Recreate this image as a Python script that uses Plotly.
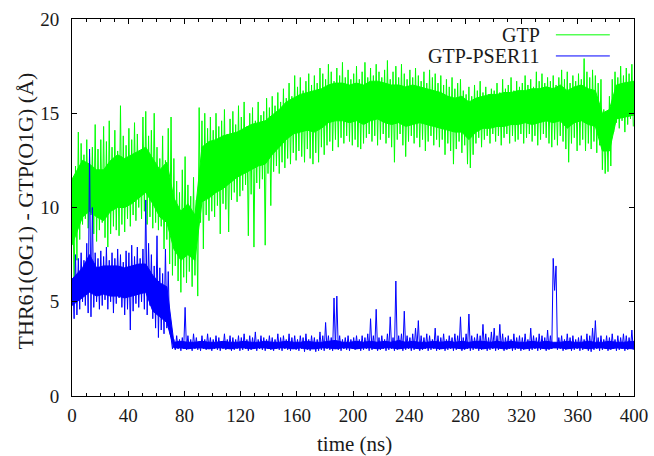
import plotly.graph_objects as go

# 2-ns bins from 0 to 400 ns; per-bin envelope (min / max)
bin_width = 2.0
n_bins = 200

gtp_hi = [
    11.5, 12.2, 14.0, 13.4, 12.8, 13.6, 12.9, 13.2, 14.4, 13.1,
    13.6, 14.3, 13.5, 14.6, 13.2, 14.1, 13.0, 15.4, 13.8, 13.3,
    14.2, 13.6, 14.5, 13.9, 12.9, 14.8, 15.1, 13.8, 14.1, 15.0,
    13.2, 12.6, 13.8, 12.5, 14.2, 14.8, 12.6, 11.4, 10.8, 12.0,
    12.7, 11.2, 10.6, 11.6, 10.4, 15.3, 14.6, 15.0, 14.2, 14.8,
    14.1, 15.0, 14.3, 14.6, 15.2, 13.9, 14.7, 15.1, 14.4, 15.4,
    14.8, 15.6, 14.3, 15.0, 15.3, 14.6, 15.6, 14.9, 15.1, 15.8,
    15.3, 15.9, 15.4, 16.1, 15.6, 16.3, 15.8, 16.6, 15.9, 17.0,
    16.4, 16.9, 16.2, 16.7, 17.1, 16.5, 17.0, 16.6, 17.4, 17.1,
    16.8, 17.6, 17.2, 16.7, 17.4, 17.0, 17.7, 16.9, 17.3, 16.8,
    17.1, 17.5, 16.8, 17.2, 17.7, 16.9, 17.4, 17.0, 17.6, 17.2,
    16.9, 17.3, 17.8, 16.8, 17.2, 17.5, 16.9, 17.6, 17.1, 16.8,
    17.3, 16.9, 17.4, 17.0, 16.7, 17.2, 16.6, 17.3, 16.9, 17.1,
    16.6, 17.0, 16.5, 16.8, 16.4, 16.9, 16.3, 16.6, 16.8, 16.2,
    16.0, 16.4, 15.9, 16.5, 16.2, 16.7, 16.1, 16.4, 16.0, 16.3,
    16.2, 16.6, 16.1, 16.8, 16.3, 16.5, 16.9, 16.2, 16.7, 16.4,
    16.6, 17.0, 16.5, 16.8, 16.4, 17.2, 16.7, 17.1, 16.6, 16.9,
    16.7, 17.0, 16.5, 16.9, 17.3, 16.8, 17.2, 16.6, 17.0, 16.7,
    17.1, 16.8, 17.9, 17.2, 16.9, 17.3, 17.0, 16.6, 16.8, 15.2,
    14.8, 15.9, 16.8, 17.2, 16.9, 17.5, 17.0, 17.4, 17.1, 17.6,
]

gtp_lo = [
    5.5, 7.2, 8.3, 9.1, 9.4, 8.9, 9.6, 8.6, 8.2, 8.8,
    9.2, 8.4, 7.9, 8.6, 9.0, 8.8, 8.5, 9.1, 8.7, 9.4,
    9.0, 9.6, 9.3, 10.0, 9.4, 9.8, 9.1, 9.5, 8.9, 9.2,
    8.8, 9.0, 7.8, 8.3, 7.0, 6.4, 6.9, 6.1, 5.5, 6.3,
    6.0, 6.6, 5.8, 6.4, 5.3, 9.2, 7.8, 9.6, 9.3, 9.8,
    9.5, 10.1, 8.6, 10.2, 9.9, 8.7, 10.4, 10.8, 10.3, 10.6,
    10.9, 11.2, 8.5, 10.7, 7.9, 11.3, 11.0, 11.5, 8.0, 11.8,
    10.1, 11.9, 12.2, 11.8, 12.4, 12.1, 12.6, 12.3, 12.9, 12.5,
    13.0, 12.7, 12.4, 13.1, 12.6, 12.3, 12.9, 12.4, 13.2, 12.8,
    13.3, 13.5, 13.0, 13.6, 13.2, 13.7, 13.4, 13.8, 13.5, 13.3,
    13.6, 13.2, 13.1, 13.4, 13.7, 13.9, 13.5, 13.8, 13.3, 13.6,
    13.9, 13.4, 13.7, 13.2, 12.4, 13.6, 13.9, 13.3, 12.7, 13.5,
    13.8, 13.4, 13.7, 13.2, 13.6, 13.0, 13.5, 13.8, 13.3, 13.6,
    13.2, 13.6, 12.8, 13.4, 13.0, 12.3, 13.1, 13.5, 12.9, 13.3,
    12.3, 12.1, 12.8, 13.4, 13.7, 13.2, 13.6, 13.8, 13.4, 13.9,
    13.5, 13.8, 13.3, 13.7, 13.9, 13.4, 13.8, 13.5, 13.6, 13.9,
    13.4, 13.7, 13.9, 13.5, 13.8, 13.3, 13.6, 13.9, 13.7, 13.4,
    13.2, 13.6, 13.3, 13.8, 13.5, 13.1, 12.4, 13.4, 13.7, 13.0,
    13.3, 13.6, 13.0, 13.4, 13.1, 13.5, 12.9, 13.3, 12.0, 11.8,
    11.9, 12.2, 14.0, 14.5, 14.2, 14.6, 14.0, 14.4, 14.7, 14.3,
]

pser_hi = [
    6.0, 7.5, 7.3, 7.6, 7.2, 8.1, 13.1, 10.0, 7.6, 7.3,
    7.7, 7.4, 7.9, 7.2, 7.6, 7.3, 7.8, 7.5, 7.1, 7.7,
    7.6, 8.0, 7.4, 7.9, 7.3, 7.8, 10.4, 8.1, 7.5, 6.9,
    8.5, 6.8, 6.5, 7.8, 6.6, 3.1, 3.0, 3.2, 3.0, 3.1,
    4.7, 3.2, 3.0, 3.3, 3.1, 2.9, 3.2, 3.0, 3.3, 3.1,
    3.0, 3.2, 3.1, 2.9, 3.3, 3.0, 3.2, 3.1, 3.0, 3.2,
    3.1, 3.3, 3.0, 3.2, 3.1, 3.4, 3.0, 3.2, 3.1, 3.0,
    3.2, 3.1, 3.0, 3.3, 3.1, 3.2, 3.0, 3.3, 3.1, 3.2,
    3.0, 3.2, 3.1, 3.3, 3.0, 3.2, 3.1, 3.0, 3.4, 3.2,
    3.9, 3.2, 3.1, 5.2, 5.3, 3.2, 3.0, 3.1, 3.2, 3.0,
    3.1, 3.2, 3.0, 3.2, 3.1, 3.3, 4.1, 3.2, 4.6, 3.1,
    3.2, 3.0, 3.3, 4.2, 3.1, 6.1, 3.2, 3.3, 4.5, 3.2,
    3.1, 3.3, 3.6, 4.0, 3.2, 3.1, 3.3, 3.2, 3.0, 3.6,
    3.2, 3.1, 3.3, 3.0, 3.2, 3.1, 3.3, 3.2, 4.2, 3.1,
    3.3, 4.35, 3.2, 3.1, 3.3, 3.2, 3.8, 3.3, 3.1, 3.4,
    3.6, 3.2, 3.8, 3.3, 3.1, 3.2, 3.0, 3.3, 3.1, 3.2,
    3.1, 3.3, 3.0, 3.6, 3.2, 3.1, 3.3, 3.2, 3.1, 3.5,
    3.2, 7.3, 6.9, 3.1, 3.2, 3.0, 3.3, 3.1, 3.2, 3.0,
    3.1, 3.2, 3.0, 3.3, 3.2, 3.6, 4.0, 3.1, 3.2, 3.0,
    3.2, 3.1, 3.3, 3.0, 3.2, 3.1, 3.3, 3.2, 3.1, 3.5,
]

pser_lo = [
    4.1, 4.3, 4.6, 5.0, 4.8, 4.4, 4.2, 4.7, 5.0, 4.6,
    4.8, 5.1, 4.6, 5.0, 4.4, 4.9, 5.2, 4.7, 4.3, 4.6,
    3.5, 4.5, 4.9, 4.7, 5.0, 4.6, 4.3, 4.8, 4.1, 3.6,
    3.1, 3.5, 3.3, 3.6, 3.4, 2.5, 2.45, 2.5, 2.4, 2.5,
    2.45, 2.5, 2.4, 2.5, 2.45, 2.4, 2.5, 2.45, 2.5, 2.4,
    2.5, 2.45, 2.4, 2.5, 2.45, 2.5, 2.4, 2.45, 2.5, 2.4,
    2.45, 2.5, 2.4, 2.45, 2.5, 2.4, 2.5, 2.45, 2.4, 2.5,
    2.45, 2.4, 2.5, 2.45, 2.4, 2.5, 2.45, 2.4, 2.5, 2.45,
    2.4, 2.5, 2.35, 2.45, 2.4, 2.5, 2.35, 2.4, 2.45, 2.4,
    2.5, 2.45, 2.4, 2.5, 2.45, 2.4, 2.5, 2.45, 2.4, 2.5,
    2.45, 2.5, 2.4, 2.45, 2.5, 2.4, 2.45, 2.5, 2.4, 2.45,
    2.5, 2.4, 2.45, 2.5, 2.4, 2.45, 2.5, 2.4, 2.45, 2.5,
    2.4, 2.45, 2.5, 2.4, 2.45, 2.5, 2.4, 2.45, 2.5, 2.4,
    2.45, 2.5, 2.4, 2.45, 2.5, 2.4, 2.45, 2.5, 2.4, 2.45,
    2.5, 2.4, 2.45, 2.5, 2.4, 2.45, 2.5, 2.4, 2.45, 2.5,
    2.4, 2.45, 2.5, 2.4, 2.45, 2.5, 2.4, 2.45, 2.5, 2.4,
    2.45, 2.5, 2.4, 2.45, 2.5, 2.4, 2.45, 2.5, 2.4, 2.45,
    2.5, 5.6, 2.45, 2.5, 2.4, 2.45, 2.5, 2.4, 2.45, 2.5,
    2.4, 2.45, 2.5, 2.4, 2.35, 2.45, 2.5, 2.4, 2.45, 2.5,
    2.4, 2.45, 2.5, 2.4, 2.45, 2.5, 2.4, 2.45, 2.5, 2.45,
]

# dense core of each band (solid block of colour), 5-ns bins
core_width = 5.0
n_core = 80
gtp_core_hi = [
    11.5, 12.5, 12.3, 12.0, 12.0, 12.5, 12.8, 12.6, 12.8, 13.0,
    13.2, 12.6, 12.0, 12.4, 10.5, 9.8, 10.2, 9.6, 13.2, 13.5,
    13.6, 13.8, 13.9, 14.0, 14.2, 14.4, 14.5, 14.6, 14.9, 15.2,
    15.6, 15.8, 16.0, 16.1, 16.2, 16.3, 16.5, 16.6, 16.6, 16.5,
    16.6, 16.5, 16.7, 16.7, 16.6, 16.5, 16.5, 16.4, 16.5, 16.4,
    16.3, 16.2, 16.1, 15.9, 15.8, 15.9, 15.6, 15.8, 15.9, 16.0,
    16.0, 16.1, 16.1, 16.2, 16.2, 16.3, 16.3, 16.4, 16.3, 16.5,
    16.2, 16.4, 16.5, 16.3, 16.2, 15.0, 15.2, 16.5, 16.6, 16.7,
]
gtp_core_lo = [
    8.0, 9.5, 9.8, 9.5, 9.3, 9.8, 10.0, 10.0, 10.2, 10.5,
    10.8, 10.2, 9.5, 9.2, 7.8, 7.2, 7.5, 7.2, 10.3, 10.5,
    10.8, 11.0, 11.3, 11.6, 11.8, 12.0, 12.2, 12.3, 12.8, 13.2,
    13.6, 13.9, 14.0, 14.1, 14.0, 14.2, 14.5, 14.6, 14.6, 14.5,
    14.6, 14.4, 14.6, 14.7, 14.5, 14.4, 14.5, 14.3, 14.4, 14.5,
    14.4, 14.3, 14.2, 14.1, 14.0, 14.0, 13.6, 14.0, 14.2, 14.2,
    14.3, 14.3, 14.4, 14.4, 14.5, 14.4, 14.5, 14.6, 14.5, 14.6,
    14.2, 14.5, 14.6, 14.4, 14.3, 13.0, 13.0, 14.7, 14.8, 14.9,
]
pser_core_hi = [
    6.2, 6.8, 7.5, 6.8, 6.9, 6.9, 6.9, 6.8, 6.9, 7.0,
    7.0, 6.4, 6.0, 5.8, 2.85, 2.9, 2.85, 2.85, 2.9, 2.85,
    2.85, 2.9, 2.85, 2.85, 2.9, 2.85, 2.85, 2.9, 2.85, 2.85,
    2.9, 2.85, 2.85, 2.9, 2.85, 2.85, 2.9, 2.95, 2.85, 2.85,
    2.9, 2.85, 2.9, 2.85, 2.9, 2.85, 2.95, 2.85, 2.9, 2.85,
    2.85, 2.9, 2.85, 2.9, 2.85, 2.9, 2.85, 2.9, 2.9, 2.85,
    2.9, 2.85, 2.9, 2.85, 2.85, 2.9, 2.85, 2.9, 2.85, 2.85,
    2.9, 2.85, 2.85, 2.9, 2.85, 2.85, 2.9, 2.85, 2.85, 2.9,
]
pser_core_lo = [
    4.8, 5.2, 5.5, 5.3, 5.4, 5.3, 5.3, 5.2, 5.3, 5.4,
    5.5, 4.5, 4.2, 3.9, 2.55, 2.55, 2.5, 2.55, 2.55, 2.5,
    2.55, 2.55, 2.5, 2.55, 2.55, 2.5, 2.55, 2.55, 2.5, 2.55,
    2.55, 2.5, 2.55, 2.5, 2.5, 2.55, 2.55, 2.5, 2.55, 2.55,
    2.5, 2.55, 2.55, 2.5, 2.55, 2.55, 2.5, 2.55, 2.55, 2.5,
    2.55, 2.55, 2.5, 2.55, 2.55, 2.5, 2.55, 2.55, 2.5, 2.55,
    2.55, 2.5, 2.55, 2.55, 2.5, 2.55, 2.55, 2.5, 2.55, 2.55,
    2.5, 2.55, 2.55, 2.5, 2.55, 2.55, 2.5, 2.55, 2.55, 2.5,
]

x_ticks = [0, 40, 80, 120, 160, 200, 240, 280, 320, 360, 400]
y_ticks = [0, 5, 10, 15, 20]
series_names = ["GTP", "GTP-PSER11"]
series_colors = ["#00ff00", "#0000ff"]


def zigzag(hi, lo):
    """Trace that swings between each bin's max and min."""
    t, v = [], []
    for b in range(n_bins):
        t.extend([b * bin_width + 0.5, b * bin_width + 1.5])
        v.extend([hi[b], lo[b]])
    return t, v


def core_band(hi, lo):
    """Closed outline of the solid core (bin centres)."""
    cx = [k * core_width + core_width / 2 for k in range(n_core)]
    cx[0], cx[-1] = 0.0, 400.0
    return cx + cx[::-1], list(hi) + list(lo)[::-1]


FONT = "Liberation Serif"
TXT = "#1a1a1a"
fig = go.Figure()
series = [(gtp_hi, gtp_lo, gtp_core_hi, gtp_core_lo),
          (pser_hi, pser_lo, pser_core_hi, pser_core_lo)]
for (hi, lo, chi, clo), name, col in zip(series, series_names, series_colors):
    cx, cy = core_band(chi, clo)
    fig.add_trace(go.Scatter(x=cx, y=cy, mode="lines", fill="toself", fillcolor=col,
                             line=dict(color=col, width=1), showlegend=False,
                             hoverinfo="skip"))
    t, v = zigzag(hi, lo)
    fig.add_trace(go.Scatter(x=t, y=v, mode="lines", name=name,
                             line=dict(color=col, width=1), showlegend=False))

axis_common = dict(showgrid=False, zeroline=False, showline=True, linecolor="#000000",
                   linewidth=1, mirror="allticks", ticks="inside", ticklen=5,
                   automargin=False, tickcolor="#000000",
                   tickfont=dict(family=FONT, size=19, color=TXT))
fig.update_xaxes(range=[0, 400], tickvals=x_ticks, ticktext=[str(v) for v in x_ticks],
                 minor=dict(dtick=10, ticks="inside", ticklen=3, tickcolor="#000000"),
                 ticklabelstandoff=2, **axis_common)
fig.update_yaxes(range=[0, 20], tickvals=y_ticks, ticktext=[str(v) for v in y_ticks],
                 ticklabelstandoff=8, **axis_common)

annotations = [
    dict(text="time (ns)", xref="paper", yref="paper", x=0.502, y=-0.127,
         showarrow=False, font=dict(family=FONT, size=21, color=TXT),
         xanchor="center", yanchor="middle"),
    dict(text="THR61(OG1) - GTP(O1G) (Å)", xref="paper", yref="paper", x=-0.082, y=0.492,
         textangle=-90, showarrow=False, font=dict(family=FONT, size=22, color=TXT),
         xanchor="center", yanchor="middle"),
]
shapes = []
leg_y = [0.958, 0.902]
for name, col, ly in zip(series_names, series_colors, leg_y):
    annotations.append(dict(text=name, xref="paper", yref="paper", x=0.836, y=ly,
                            showarrow=False, xanchor="right", yanchor="middle",
                            font=dict(family=FONT, size=20, color=TXT)))
    shapes.append(dict(type="line", xref="paper", yref="paper", x0=0.861, x1=0.957,
                       y0=ly, y1=ly, line=dict(color=col, width=1)))

fig.update_layout(width=654, height=456, margin=dict(l=72, r=20, t=19, b=60),
                  paper_bgcolor="white", plot_bgcolor="white",
                  annotations=annotations, shapes=shapes,
                  font=dict(family=FONT, size=19, color=TXT))

fig.write_html("out.html", config={"displayModeBar": False},
               post_script="document.body.style.margin='0px';")
